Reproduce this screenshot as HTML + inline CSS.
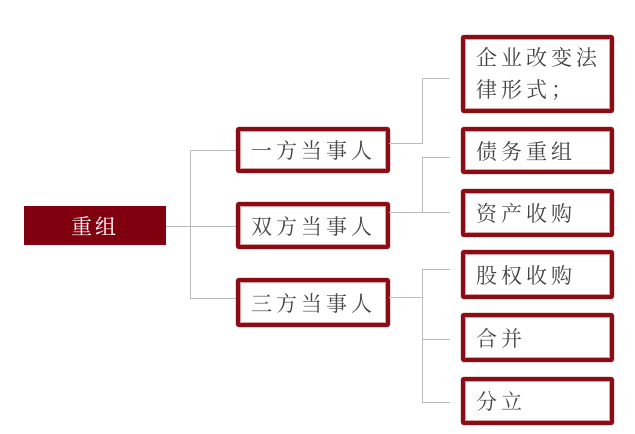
<!DOCTYPE html>
<html><head><meta charset="utf-8"><style>
body{margin:0;width:635px;height:434px;background:#fff;position:relative;overflow:hidden;font-family:"Liberation Serif","Noto Serif CJK SC","Noto Sans CJK SC",serif;}
.b{position:absolute;box-sizing:border-box;border:4px solid #8a0d16;border-radius:3px;box-shadow:inset 0 0 0 1px #d8a0a0,0 0 1px #8a0d16;color:#444;font-size:21px;letter-spacing:4px;display:flex;align-items:center;padding-left:11px;background:#fff;}
.l{position:absolute;background:#bbb;}
</style></head><body>
<div style="position:absolute;left:24px;top:206px;width:142px;height:39px;background:#800010;color:#fff;font-size:21px;letter-spacing:3px;display:flex;align-items:center;justify-content:center;">重组</div>
<div class="l" style="left:190px;top:150px;width:1px;height:149px"></div>
<div class="l" style="left:190px;top:150px;width:46px;height:1px"></div>
<div class="l" style="left:166px;top:226px;width:70px;height:1px"></div>
<div class="l" style="left:190px;top:298px;width:46px;height:1px"></div>
<div class="b" style="left:236px;top:127px;width:154px;height:46px">一方当事人</div>
<div class="b" style="left:236px;top:202px;width:154px;height:47px">双方当事人</div>
<div class="b" style="left:236px;top:278px;width:154px;height:49px">三方当事人</div>
<div class="l" style="left:389px;top:143px;width:33px;height:1px"></div>
<div class="l" style="left:422px;top:78px;width:1px;height:66px"></div>
<div class="l" style="left:422px;top:78px;width:28px;height:1px"></div>
<div class="l" style="left:389px;top:212px;width:61px;height:1px"></div>
<div class="l" style="left:422px;top:157px;width:1px;height:56px"></div>
<div class="l" style="left:422px;top:157px;width:28px;height:1px"></div>
<div class="l" style="left:389px;top:297px;width:33px;height:1px"></div>
<div class="l" style="left:422px;top:269px;width:1px;height:134px"></div>
<div class="l" style="left:422px;top:269px;width:28px;height:1px"></div>
<div class="l" style="left:422px;top:339px;width:28px;height:1px"></div>
<div class="l" style="left:422px;top:402px;width:28px;height:1px"></div>
<div class="b" style="left:461px;top:35px;width:153px;height:78px;line-height:32px;align-items:center">企业改变法<br>律形式；</div>
<div class="b" style="left:461px;top:127px;width:153px;height:47px">债务重组</div>
<div class="b" style="left:461px;top:189px;width:153px;height:48px">资产收购</div>
<div class="b" style="left:461px;top:250px;width:153px;height:49px">股权收购</div>
<div class="b" style="left:461px;top:313px;width:153px;height:49px">合并</div>
<div class="b" style="left:461px;top:377px;width:153px;height:48px">分立</div>
</body></html>
